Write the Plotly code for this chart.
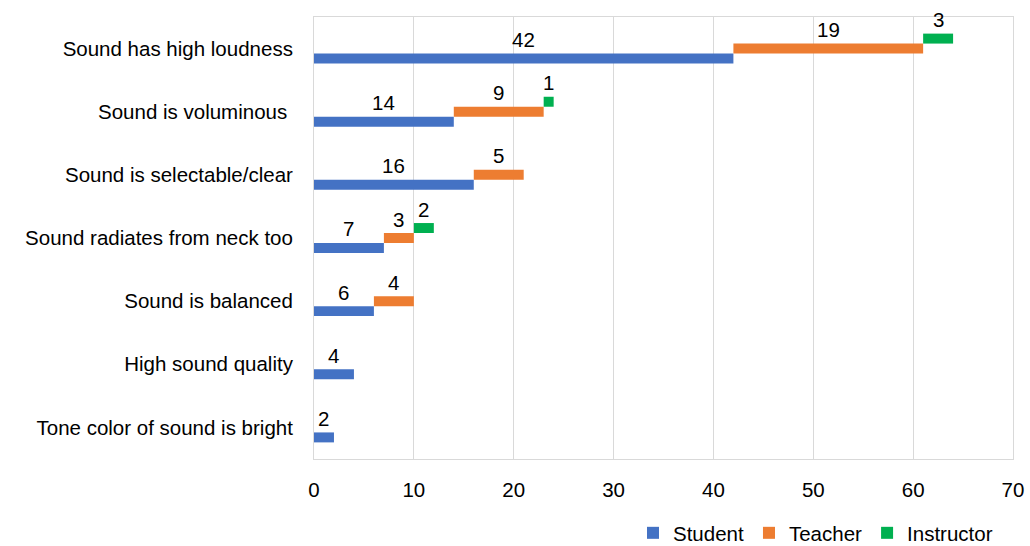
import plotly.graph_objects as go

# Response categories, listed top to bottom
categories = [
    "Sound has high loudness",
    "Sound is voluminous\u00a0",
    "Sound is selectable/clear",
    "Sound radiates from neck too",
    "Sound is balanced",
    "High sound quality",
    "Tone color of sound is bright",
]
student = [42, 14, 16, 7, 6, 4, 2]
teacher = [19, 9, 5, 3, 4, None, None]
instructor = [3, 1, None, 2, None, None, None]
x_ticks = [0, 10, 20, 30, 40, 50, 60, 70]

FONT = "Liberation Sans"
FSIZE = 20.5
BAR_W = 0.158  # thickness of each bar in category units
positions = list(range(len(categories)))

series = [
    ("Student", student, "#4472C4", BAR_W),
    ("Teacher", teacher, "#ED7D31", 0.0),
    ("Instructor", instructor, "#00B050", -BAR_W),
]

fig = go.Figure()
annotations = []
prev_end = [0] * len(categories)
for name, vals, color, shift in series:
    xs, ys, bases = [], [], []
    for i, v in enumerate(vals):
        base = prev_end[i]
        if v is not None:
            xs.append(v)
            ys.append(i + shift)
            bases.append(base)
            annotations.append(dict(
                x=base + v / 2, y=i + shift, xref="x", yref="y",
                text=str(v), showarrow=False, yanchor="middle",
                yshift=19, font=dict(family=FONT, size=FSIZE, color="#000000"),
            ))
            prev_end[i] = base + v
    fig.add_trace(go.Bar(
        name=name, x=xs, y=ys, base=bases, orientation="h",
        width=BAR_W, marker=dict(color=color, line=dict(width=0)),
        hoverinfo="skip",
    ))

fig.update_layout(
    width=1030, height=546,
    margin=dict(l=314, r=17, t=17, b=87, autoexpand=False),
    paper_bgcolor="white", plot_bgcolor="white",
    barmode="overlay",
    font=dict(family=FONT, size=FSIZE, color="#000000"),
    annotations=annotations,
    showlegend=True,
    legend=dict(
        orientation="h", xref="container", yref="container",
        x=633 / 1030, xanchor="left", y=13 / 546, yanchor="middle",
        font=dict(family=FONT, size=FSIZE, color="#000000"),
        itemwidth=30, bgcolor="rgba(0,0,0,0)",
    ),
    xaxis=dict(
        range=[0, 70], tickvals=x_ticks, showgrid=True, gridcolor="#D9D9D9",
        gridwidth=1, zeroline=False, showline=True, linecolor="#D9D9D9",
        mirror=True, ticks="", ticklabelstandoff=12,
        tickfont=dict(family=FONT, size=FSIZE, color="#000000"),
    ),
    yaxis=dict(
        range=[len(categories) - 0.5, -0.5], tickvals=positions,
        ticktext=categories, showgrid=False, zeroline=False,
        showline=True, linecolor="#D9D9D9", mirror=True, ticks="",
        ticklabelstandoff=16,
        tickfont=dict(family=FONT, size=FSIZE, color="#000000"),
    ),
)

fig.write_html("out.html")
